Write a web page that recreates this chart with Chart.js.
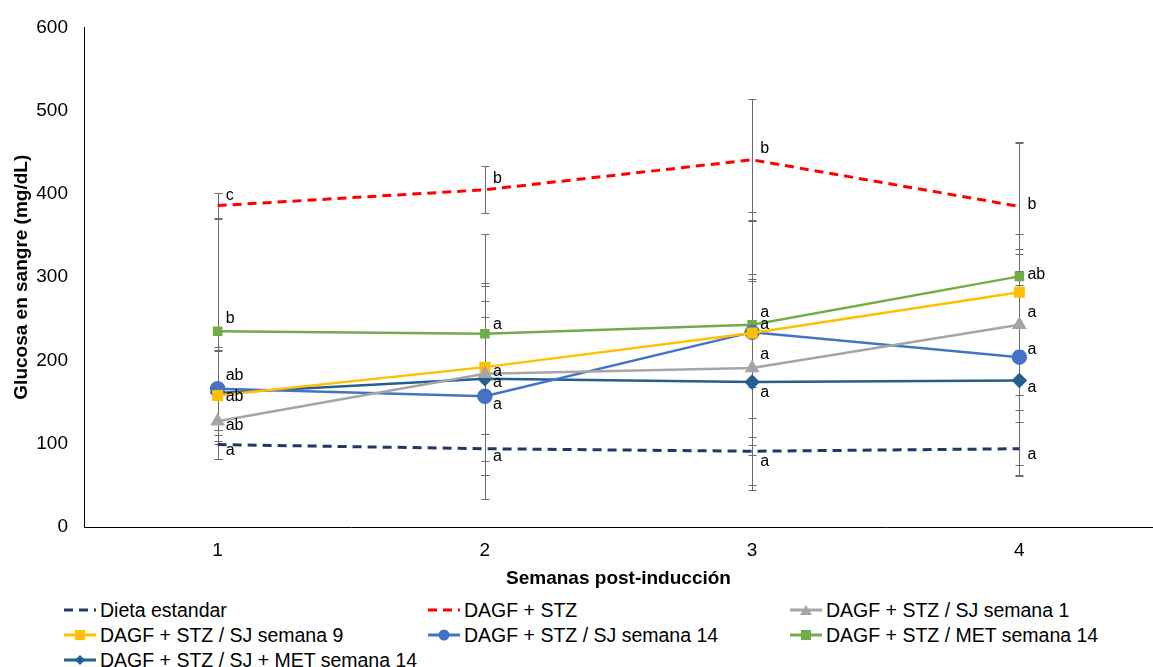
<!DOCTYPE html>
<html>
<head>
<meta charset="utf-8">
<script src="https://cdn.jsdelivr.net/npm/chart.js@4.4.1/dist/chart.umd.min.js"></script>
<style>
  html, body { margin: 0; padding: 0; background: #fff; overflow: hidden; }
  #wrap { position: relative; width: 1153px; height: 667px; }
  #chart-box { position: absolute; left: 0; top: 0; width: 1153px; height: 594px; }
  #legend { position: absolute; left: 0; top: 597px; width: 1153px; font-family: "Liberation Sans", Arial, sans-serif; font-size: 19.5px; color: #000; }
  .item { position: absolute; height: 26px; line-height: 26px; white-space: nowrap; }
  .item svg { position: absolute; left: 0; top: 5px; }
  .item span { position: absolute; left: 36px; top: 0; }
</style>
</head>
<body>
<div id="wrap">
  <div id="chart-box"><canvas id="c"></canvas></div>
  <div id="legend"></div>
</div>
<script>
// Blood glucose per group over the 4 post-induction weeks, with SD bars and
// significance letters, recreated from the Excel figure.

const weeks = ["1", "2", "3", "4"];

const dietaEstandar = [99, 94, 91, 94];
const dagfStz = [386, 405, 441, 385];
const sjSemana1 = [127, 184, 191, 243];
const sjSemana9 = [158, 192, 233, 282];
const sjSemana14 = [166, 157, 234, 204];
const metSemana14 = [235, 232, 243, 301];
const sjMetSemana14 = [161, 178, 174, 176];

// standard deviations (error bars)
const sdDieta = [17, 60, 40, 32];
const sdStz = [15, 28, 73, 77];
const sdSj1 = [45, 105, 105, 85];
const sdSj9 = [55, 80, 65, 70];
const sdSj14 = [50, 95, 135, 130];
const sdMet = [135, 120, 135, 160];
const sdSjMet = [50, 115, 130, 115];

// significance letters ("" = not shown, hidden behind another label)
const letDieta = ["a", "a", "a", "a"];
const letStz = ["c", "b", "b", "b"];
const letSj1 = ["ab", "", "a", "a"];
const letSj9 = ["ab", "a", "", ""];
const letSj14 = ["ab", "a", "a", "a"];
const letMet = ["b", "a", "a", "ab"];
const letSjMet = ["", "a", "a", "a"];

const yTicks = [0, 100, 200, 300, 400, 500, 600];

// vertical nudge of each letter relative to its point (px)
const letterShift = {
  dieta: [6, 8, 10, 6],
  stz: [-10, -11, -11, -2],
  sj1: [4, 0, -13, -12],
  sj9: [1, 4, 0, 0],
  sj14: [-13, 8, -8, -8],
  met: [-13, -9, -12, -2],
  sjmet: [0, 4, 10, 7],
};

const COLORS = {
  dieta: "#1f3864",
  stz: "#ff0000",
  sj1: "#a5a5a5",
  sj9: "#ffc000",
  sj14: "#4472c4",
  met: "#70ad47",
  sjmet: "#255e91",
  err: "#6b6b6b",
};

Chart.defaults.font.family = '"Liberation Sans", Arial, sans-serif';
Chart.defaults.color = "#000";
Chart.defaults.animation = false;

function series(key, label, data, sd, letters, opts) {
  return Object.assign({
    key, label, data, sd, letters,
    borderColor: COLORS[key],
    backgroundColor: COLORS[key],
    pointBackgroundColor: COLORS[key],
    pointBorderColor: COLORS[key],
    borderWidth: 2.5,
    tension: 0,
    fill: false,
  }, opts);
}

const datasets = [
  series("dieta", "Dieta estandar", dietaEstandar, sdDieta, letDieta, { borderDash: [9, 6], borderWidth: 3, pointRadius: 0 }),
  series("stz", "DAGF + STZ", dagfStz, sdStz, letStz, { borderDash: [9, 6], borderWidth: 3, pointRadius: 0 }),
  series("sj1", "DAGF + STZ / SJ semana 1", sjSemana1, sdSj1, letSj1, { pointStyle: "triangle", pointRadius: 6 }),
  series("sj9", "DAGF + STZ / SJ semana 9", sjSemana9, sdSj9, letSj9, { pointStyle: "rect", pointRadius: 6 }),
  series("sj14", "DAGF + STZ / SJ semana 14", sjSemana14, sdSj14, letSj14, { pointStyle: "circle", pointRadius: 6.5 }),
  series("met", "DAGF + STZ / MET semana 14", metSemana14, sdMet, letMet, { pointStyle: "rect", pointRadius: 5 }),
  series("sjmet", "DAGF + STZ / SJ + MET semana 14", sjMetSemana14, sdSjMet, letSjMet, { pointStyle: "rectRot", pointRadius: 6 }),
];

const errorBars = {
  id: "errorBars",
  beforeDatasetsDraw(chart) {
    const { ctx, scales: { x, y } } = chart;
    ctx.save();
    ctx.strokeStyle = COLORS.err;
    ctx.lineWidth = 1;
    chart.data.datasets.forEach((ds) => {
      ds.data.forEach((v, i) => {
        const px = Math.round(x.getPixelForValue(i)) + 0.5;
        const top = Math.round(y.getPixelForValue(v + ds.sd[i])) + 0.5;
        const bot = Math.round(y.getPixelForValue(Math.max(0, v - ds.sd[i]))) + 0.5;
        ctx.beginPath();
        ctx.moveTo(px, top);
        ctx.lineTo(px, bot);
        ctx.moveTo(px - 4, top);
        ctx.lineTo(px + 4, top);
        ctx.moveTo(px - 4, bot);
        ctx.lineTo(px + 4, bot);
        ctx.stroke();
      });
    });
    ctx.restore();
  },
};

const letterLabels = {
  id: "letterLabels",
  afterDatasetsDraw(chart) {
    const { ctx, scales: { x, y } } = chart;
    ctx.save();
    ctx.font = '16px "Liberation Sans", Arial, sans-serif';
    ctx.fillStyle = "#000";
    ctx.textBaseline = "middle";
    chart.data.datasets.forEach((ds) => {
      ds.data.forEach((v, i) => {
        if (!ds.letters[i]) return;
        const shift = letterShift[ds.key][i];
        ctx.fillText(ds.letters[i], x.getPixelForValue(i) + 8, y.getPixelForValue(v) + shift);
      });
    });
    ctx.restore();
  },
};

new Chart(document.getElementById("c"), {
  type: "line",
  data: { labels: weeks, datasets },
  options: {
    responsive: true,
    maintainAspectRatio: false,
    layout: { autoPadding: false, padding: { top: 25, right: 0, left: 0, bottom: 0 } },
    plugins: {
      legend: { display: false },
      tooltip: { enabled: false },
    },
    scales: {
      x: {
        offset: true,
        grid: { display: false, drawTicks: false },
        border: { color: "#000", width: 1 },
        ticks: { font: { size: 19 }, padding: 12 },
        title: { display: true, text: "Semanas post-inducción", font: { size: 19, weight: "bold" }, padding: { top: 4 } },
        afterFit: (s) => { s.height = 67; s.paddingLeft = 0; s.paddingRight = 0; },
      },
      y: {
        min: 0,
        max: 600,
        afterBuildTicks: (s) => { s.ticks = yTicks.map((v) => ({ value: v })); },
        grid: { display: false, drawTicks: false },
        border: { color: "#000", width: 1 },
        ticks: { font: { size: 19 }, padding: 16 },
        title: { display: true, text: "Glucosa en sangre (mg/dL)", font: { size: 19, weight: "bold" }, padding: { top: 10, bottom: 0 } },
        afterFit: (s) => { s.width = 84; },
      },
    },
  },
  plugins: [errorBars, letterLabels],
});

// legend in three fixed columns, like the Excel layout
const legendCols = [64, 428, 790];
const legendEl = document.getElementById("legend");
datasets.forEach((ds, i) => {
  const col = i % 3, row = Math.floor(i / 3);
  const dash = ds.borderDash ? `stroke-dasharray="9 6"` : "";
  let marker = "";
  const c = ds.borderColor;
  if (ds.pointRadius > 0) {
    if (ds.pointStyle === "triangle") marker = `<polygon points="16,3 22,13 10,13" fill="${c}"/>`;
    else if (ds.pointStyle === "rect") marker = `<rect x="11" y="3" width="10" height="10" fill="${c}"/>`;
    else if (ds.pointStyle === "circle") marker = `<circle cx="16" cy="8" r="5.5" fill="${c}"/>`;
    else if (ds.pointStyle === "rectRot") marker = `<polygon points="16,3 21,8 16,13 11,8" fill="${c}"/>`;
  }
  const div = document.createElement("div");
  div.className = "item";
  div.style.left = legendCols[col] + "px";
  div.style.top = row * 25 + "px";
  div.innerHTML = `<svg width="34" height="16"><line x1="0" y1="8" x2="32" y2="8" stroke="${c}" stroke-width="3" ${dash}/>${marker}</svg><span>${ds.label}</span>`;
  legendEl.appendChild(div);
});
</script>
</body>
</html>
